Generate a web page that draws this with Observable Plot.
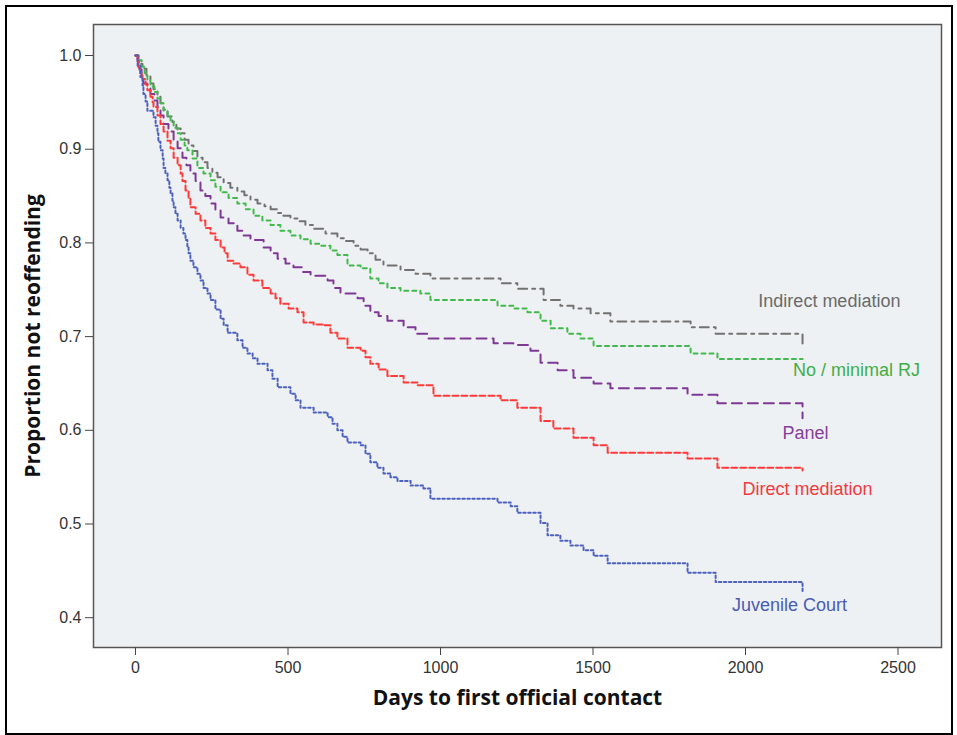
<!DOCTYPE html>
<html>
<head>
<meta charset="utf-8">
<script src="https://cdn.jsdelivr.net/npm/d3@7"></script>
<script src="https://cdn.jsdelivr.net/npm/@observablehq/plot@0.6"></script>
<style>
  html, body { margin: 0; padding: 0; background: #fff; }
  #wrap { position: relative; width: 957px; height: 735px; overflow: hidden; }
  #border { position: absolute; left: 5px; top: 5px; width: 944px; height: 726px; border: 2px solid #000; pointer-events: none; }
  svg { display: block; font-family: "Liberation Sans", Arial, sans-serif; }
</style>
</head>
<body>
<div id="wrap"><div id="chart"></div><div id="border"></div></div>
<script>
// Kaplan–Meier step points: [days, proportion not reoffending]
const indirectMediation = [
  [0,1.000],[10,0.991],[23,0.986],[36,0.978],[49,0.970],[59,0.964],[72,0.956],[82,0.949],[92,0.941],
  [105,0.935],[121,0.929],[134,0.922],[148,0.917],[161,0.910],[174,0.904],[190,0.898],[203,0.891],
  [220,0.886],[236,0.880],[252,0.875],[269,0.870],[289,0.864],[311,0.859],[334,0.855],[357,0.851],
  [377,0.846],[400,0.842],[423,0.839],[443,0.836],[466,0.832],[485,0.829],[508,0.826],[534,0.823],
  [557,0.819],[584,0.815],[623,0.810],[662,0.805],[689,0.802],[715,0.797],[738,0.793],[761,0.789],
  [787,0.782],[813,0.776],[869,0.771],[918,0.767],[967,0.762],[1197,0.757],[1252,0.751],[1338,0.739],
  [1393,0.733],[1436,0.730],[1492,0.725],[1557,0.716],[1820,0.710],[1902,0.703],[2187,0.689]
];
const noMinimalRJ = [
  [0,1.000],[10,0.995],[20,0.988],[30,0.981],[39,0.973],[49,0.967],[62,0.961],[72,0.954],[82,0.949],
  [92,0.942],[105,0.936],[115,0.930],[125,0.923],[138,0.917],[148,0.910],[161,0.904],[170,0.899],
  [187,0.890],[203,0.880],[223,0.874],[246,0.867],[262,0.860],[279,0.854],[305,0.848],[334,0.842],
  [361,0.836],[387,0.829],[416,0.824],[443,0.819],[475,0.813],[508,0.808],[541,0.804],[574,0.799],
  [607,0.797],[639,0.792],[662,0.787],[695,0.776],[738,0.773],[770,0.762],[797,0.757],[826,0.752],
  [869,0.749],[934,0.746],[967,0.739],[1187,0.733],[1239,0.730],[1285,0.726],[1328,0.717],[1361,0.709],
  [1416,0.703],[1459,0.698],[1502,0.690],[1820,0.682],[1908,0.676],[2187,0.676]
];
const panel = [
  [0,1.000],[7,0.993],[13,0.985],[20,0.978],[26,0.970],[39,0.965],[49,0.959],[62,0.952],[72,0.945],
  [82,0.936],[92,0.927],[108,0.919],[125,0.909],[138,0.901],[154,0.891],[167,0.883],[180,0.874],
  [197,0.866],[213,0.856],[229,0.850],[246,0.842],[262,0.835],[279,0.827],[305,0.821],[334,0.813],
  [354,0.808],[377,0.803],[420,0.795],[443,0.789],[466,0.783],[492,0.778],[518,0.774],[548,0.769],
  [574,0.765],[630,0.760],[649,0.752],[672,0.746],[728,0.741],[748,0.733],[770,0.726],[797,0.722],
  [826,0.717],[879,0.710],[918,0.703],[957,0.698],[1174,0.693],[1239,0.691],[1295,0.685],[1328,0.672],
  [1384,0.664],[1436,0.656],[1502,0.650],[1557,0.645],[1810,0.638],[1908,0.629],[2187,0.613]
];
const directMediation = [
  [0,1.000],[7,0.994],[10,0.987],[16,0.981],[23,0.975],[33,0.969],[39,0.963],[49,0.956],[56,0.950],
  [59,0.945],[72,0.936],[82,0.927],[92,0.919],[105,0.909],[115,0.901],[125,0.891],[138,0.883],
  [148,0.874],[154,0.866],[164,0.856],[174,0.847],[180,0.838],[197,0.831],[213,0.824],[229,0.816],
  [246,0.810],[262,0.803],[279,0.795],[292,0.789],[302,0.781],[321,0.778],[344,0.774],[367,0.766],
  [387,0.760],[416,0.752],[443,0.746],[459,0.741],[475,0.735],[502,0.730],[531,0.726],[551,0.715],
  [584,0.713],[616,0.712],[639,0.704],[662,0.698],[695,0.688],[738,0.685],[754,0.678],[770,0.671],
  [797,0.665],[826,0.658],[879,0.651],[925,0.648],[977,0.637],[1197,0.632],[1252,0.624],[1328,0.610],
  [1370,0.602],[1436,0.592],[1502,0.584],[1548,0.576],[1810,0.570],[1908,0.560],[2187,0.557]
];
const juvenileCourt = [
  [0,1.000],[7,0.989],[16,0.977],[23,0.968],[26,0.959],[33,0.951],[39,0.941],[59,0.934],[66,0.925],
  [72,0.917],[75,0.908],[82,0.899],[89,0.890],[92,0.880],[98,0.874],[105,0.867],[111,0.859],
  [115,0.853],[121,0.845],[125,0.838],[131,0.831],[138,0.824],[148,0.816],[157,0.810],[164,0.803],
  [170,0.795],[174,0.789],[180,0.781],[190,0.774],[203,0.767],[213,0.760],[223,0.752],[236,0.746],
  [246,0.739],[262,0.729],[279,0.719],[289,0.712],[302,0.704],[334,0.696],[351,0.688],[367,0.682],
  [384,0.677],[400,0.671],[433,0.664],[449,0.655],[466,0.646],[508,0.639],[525,0.632],[541,0.624],
  [584,0.619],[630,0.614],[646,0.607],[662,0.600],[679,0.593],[695,0.587],[738,0.584],[754,0.575],
  [770,0.566],[793,0.560],[813,0.554],[836,0.550],[859,0.546],[902,0.541],[944,0.538],[967,0.527],
  [1187,0.523],[1230,0.519],[1252,0.512],[1328,0.501],[1351,0.488],[1393,0.482],[1426,0.477],
  [1469,0.472],[1502,0.466],[1548,0.458],[1810,0.448],[1902,0.438],[2187,0.427]
];

const seriesNames = ["Indirect mediation","No / minimal RJ","Panel","Direct mediation","Juvenile Court"];
const seriesData = [indirectMediation, noMinimalRJ, panel, directMediation, juvenileCourt];
// label anchors (days, proportion)
const labelDays  = [2275, 2364, 2197, 2203, 2144];
const labelProps = [0.7375, 0.664, 0.597, 0.537, 0.413];

const xTicks = [0, 500, 1000, 1500, 2000, 2500];
const yTicks = [0.4, 0.5, 0.6, 0.7, 0.8, 0.9, 1.0];

const lineColors = ["#727272", "#42b94c", "#7e3996", "#ff3a3a", "#4d61c0"];
const textColors = ["#6a6a6a", "#3fae48", "#86409a", "#f23a40", "#4a5bb3"];
const dashes = ["9,5,3,5", "4,4", "10,6", "6,3", "2.5,2.5"];

const marks = [
  Plot.frame({fill: "#eef1f3", stroke: "#555", strokeWidth: 1.5}),
  Plot.axisY({ticks: yTicks, tickFormat: d3.format(".1f"), tickSize: 8, tickPadding: 4, fontSize: 16, label: null, stroke: "#444"}),
  Plot.axisX({ticks: xTicks, tickFormat: d => String(d), tickSize: 8, tickPadding: 6, fontSize: 16, label: null, stroke: "#444"}),
];
seriesData.forEach((arr, i) => {
  marks.push(Plot.line(arr, {x: d => d[0], y: d => d[1], curve: "step-after",
    stroke: lineColors[i], strokeWidth: 2, strokeDasharray: dashes[i]}));
});
marks.push(Plot.text(seriesNames.map((n, i) => ({n, x: labelDays[i], y: labelProps[i], c: textColors[i]})), {
  x: "x", y: "y", text: "n", fill: d => d.c, fontSize: 18, ariaLabel: "series-label"
}));
marks.push(Plot.text(["Proportion not reoffending"], {frameAnchor: "left", dx: -60, rotate: -90,
  textAnchor: "middle", fontSize: 21, fontWeight: "bold", fill: "#111", fontFamily: "Open Sans"}));
marks.push(Plot.text(["Days to first official contact"], {frameAnchor: "bottom", dy: 57,
  fontSize: 21, fontWeight: "bold", fill: "#111", fontFamily: "Open Sans"}));

const chart = Plot.plot({
  width: 957, height: 735,
  marginLeft: 93, marginRight: 16, marginTop: 24, marginBottom: 88,
  style: {background: "transparent", color: "#333", fontFamily: "'Liberation Sans', Arial, sans-serif"},
  x: {domain: [-137.7, 2642.6]},
  y: {domain: [0.3682, 1.0331]},
  color: {type: "identity"},
  marks
});
document.getElementById("chart").appendChild(chart);

// white boxes behind the series labels
chart.querySelectorAll('g[aria-label="series-label"] text').forEach(t => {
  const b = t.getBBox();
  const r = document.createElementNS("http://www.w3.org/2000/svg", "rect");
  r.setAttribute("x", b.x - 4); r.setAttribute("y", b.y - 3);
  r.setAttribute("width", b.width + 8); r.setAttribute("height", b.height + 6);
  r.setAttribute("fill", "#fff");
  const tr = t.getAttribute("transform");
  if (tr) r.setAttribute("transform", tr);
  t.parentNode.insertBefore(r, t);
});
</script>
</body>
</html>
